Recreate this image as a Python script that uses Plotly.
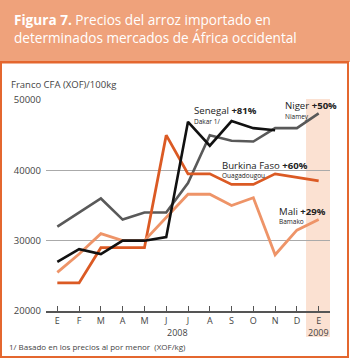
import plotly.graph_objects as go

months = ["E", "F", "M", "A", "M", "J", "J", "A", "S", "O", "N", "D", "E"]
x_idx = list(range(len(months)))

niger = [32000, 34000, 36000, 33000, 34000, 34000, 38200, 45000, 44200, 44100, 46000, 46000, 48100]
senegal = [27000, 28800, 28100, 30000, 30000, 30500, 46900, 43500, 47000, 46000, 45700, None, None]
burkina = [24000, 24000, 29000, 29000, 29000, 45000, 39500, 39500, 38000, 38000, 39500, 39000, 38500]
mali = [25500, 28100, 31000, 30000, 30000, 33300, 36600, 36600, 35000, 36100, 28000, 31500, 33000]

y_ticks = [20000, 30000, 40000, 50000]

W, H = 350, 358
ML, MR, MT, MB = 46, 20, 100, 47
PW = W - ML - MR
PH = H - MT - MB


def px(x):
    return (x - ML) / PW


def py(y):
    return (H - MB - y) / PH


FONT = "Open Sans"
C_NIGER = "#595959"
C_SEN = "#111111"
C_BUR = "#DB5A24"
C_MALI = "#EE9468"
C_HEAD = "#EFA27B"
C_BORDER = "#E4672F"
C_SHADE = "#FBE1D2"

fig = go.Figure()
fig.add_trace(go.Scatter(x=x_idx, y=niger, mode="lines", line=dict(color=C_NIGER, width=2.6), hoverinfo="skip"))
fig.add_trace(go.Scatter(x=x_idx, y=burkina, mode="lines", line=dict(color=C_BUR, width=2.8), hoverinfo="skip"))
fig.add_trace(go.Scatter(x=x_idx, y=mali, mode="lines", line=dict(color=C_MALI, width=2.8), hoverinfo="skip"))
fig.add_trace(go.Scatter(x=x_idx, y=senegal, mode="lines", line=dict(color=C_SEN, width=2.6), hoverinfo="skip"))

shapes = [
    dict(type="rect", xref="paper", yref="paper", x0=px(-5), x1=px(W + 5), y0=py(62), y1=py(-5),
         fillcolor=C_HEAD, line=dict(width=0), layer="below"),
    dict(type="line", xref="paper", yref="paper", x0=px(0), x1=px(349), y0=py(62.5), y1=py(62.5),
         line=dict(color=C_BORDER, width=2), layer="below"),
    dict(type="rect", xref="paper", yref="paper", x0=px(1), x1=px(348), y0=py(357), y1=py(62),
         line=dict(color=C_BORDER, width=2), fillcolor="rgba(0,0,0,0)", layer="below"),
    dict(type="rect", xref="x", yref="paper", x0=11.42, x1=12.55, y0=py(337), y1=py(99),
         fillcolor=C_SHADE, line=dict(width=0), layer="below"),
]

ann = [
    dict(text="<b>Figura 7.</b> Precios del arroz importado en<br>determinados mercados de África occidental",
         x=px(12), y=py(28.5), xanchor="left", yanchor="middle", align="left",
         font=dict(size=13.6, color="white", family=FONT)),
    dict(text="Franco CFA (XOF)/100kg", x=px(9), y=py(84), xanchor="left", yanchor="middle",
         font=dict(size=9.5, color="#444", family=FONT)),
    dict(text="1/ Basado en los precios al por menor  (XOF/kg)", x=px(7), y=py(346), xanchor="left", yanchor="middle",
         font=dict(size=8, color="#444", family=FONT)),
    dict(text="2008", x=5.5, xref="x", y=py(332), xanchor="center", yanchor="middle",
         font=dict(size=9, color="#444", family=FONT)),
    dict(text="2009", x=12, xref="x", y=py(332), xanchor="center", yanchor="middle",
         font=dict(size=9, color="#444", family=FONT)),
    dict(text="Senegal <b>+81%</b>", x=px(192), y=py(110), xanchor="left", yanchor="middle",
         font=dict(size=9.6, color="#222", family=FONT)),
    dict(text="Dakar 1/", x=px(192), y=py(121), xanchor="left", yanchor="middle",
         font=dict(size=6.5, color="#222", family=FONT)),
    dict(text="Niger <b>+50%</b>", x=px(283), y=py(106), xanchor="left", yanchor="middle",
         font=dict(size=9.6, color="#222", family=FONT)),
    dict(text="Niamey", x=px(283), y=py(116), xanchor="left", yanchor="middle",
         font=dict(size=6.5, color="#222", family=FONT)),
    dict(text="Burkina Faso <b>+60%</b>", x=px(220), y=py(165), xanchor="left", yanchor="middle",
         font=dict(size=9.6, color="#222", family=FONT)),
    dict(text="Ouagadougou", x=px(220), y=py(175), xanchor="left", yanchor="middle",
         font=dict(size=6.5, color="#222", family=FONT)),
    dict(text="Mali <b>+29%</b>", x=px(277), y=py(211), xanchor="left", yanchor="middle",
         font=dict(size=9.6, color="#222", family=FONT)),
    dict(text="Bamako", x=px(277), y=py(221), xanchor="left", yanchor="middle",
         font=dict(size=6.5, color="#222", family=FONT)),
]
for a in ann:
    a.setdefault("xref", "paper")
    a.setdefault("yref", "paper")
    a["showarrow"] = False

fig.update_layout(
    width=W, height=H,
    margin=dict(l=ML, r=MR, t=MT, b=MB, pad=0),
    paper_bgcolor="white",
    plot_bgcolor="rgba(0,0,0,0)",
    showlegend=False,
    shapes=shapes,
    annotations=ann,
    font=dict(family=FONT, color="#444"),
    xaxis=dict(range=[-0.52, 12.52], tickvals=x_idx, ticktext=months, showgrid=False, zeroline=False,
               showline=True, linecolor="#555", linewidth=2, ticks="inside", ticklen=5, tickcolor="#555",
               tickwidth=1, tickfont=dict(size=9, color="#444", family=FONT)),
    yaxis=dict(range=[20000, 50000], tickvals=y_ticks, tickformat="d", showgrid=True, gridcolor="#AAAAAA",
               gridwidth=1, zeroline=False, showline=False, ticks="", ticklabelstandoff=4,
               tickfont=dict(size=9.5, color="#444", family=FONT)),
)

fig.write_html("out.html")
